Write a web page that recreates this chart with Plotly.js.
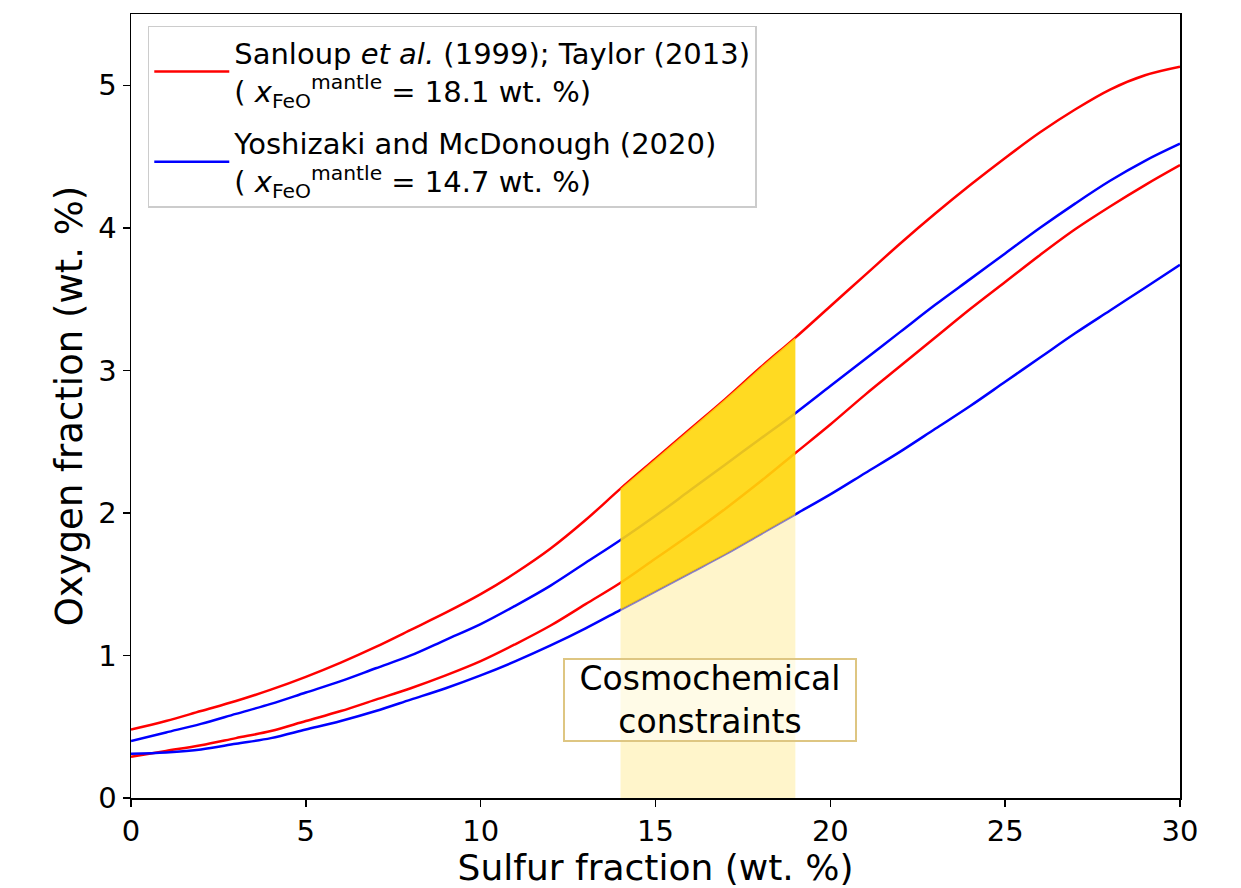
<!DOCTYPE html>
<html>
<head>
<meta charset="utf-8">
<script src="https://cdn.plot.ly/plotly-3.0.1.min.js"></script>
<style>html,body{margin:0;padding:0;background:#fff;}#chart{width:1241px;height:888px;}</style>
</head>
<body>
<div id="chart"></div>
<script>
// Sulfur fraction (wt. %)
const sulfur = [0, 1, 2, 3, 4, 5, 6, 7, 8, 9, 10, 11, 12, 13, 14, 15, 16, 17, 18, 19, 20, 21, 22, 23, 24, 25, 26, 27, 28, 29, 30];
// Sanloup et al. (1999); Taylor (2013) — upper and lower curves
const sanloupUpper = [0.48, 0.54, 0.61, 0.68, 0.76, 0.85, 0.95, 1.06, 1.18, 1.30, 1.43, 1.58, 1.75, 1.95, 2.17, 2.38, 2.59, 2.80, 3.02, 3.23, 3.45, 3.67, 3.89, 4.10, 4.30, 4.49, 4.67, 4.83, 4.97, 5.07, 5.13];
const sanloupLower = [0.29, 0.33, 0.37, 0.42, 0.47, 0.54, 0.61, 0.69, 0.77, 0.86, 0.96, 1.08, 1.21, 1.36, 1.51, 1.68, 1.85, 2.03, 2.22, 2.42, 2.62, 2.83, 3.03, 3.23, 3.43, 3.62, 3.81, 3.99, 4.15, 4.30, 4.44];
// Yoshizaki and McDonough (2020) — upper and lower curves
const yoshUpper = [0.40, 0.46, 0.52, 0.59, 0.66, 0.74, 0.82, 0.91, 1.00, 1.11, 1.22, 1.35, 1.49, 1.65, 1.81, 1.98, 2.16, 2.34, 2.52, 2.70, 2.89, 3.08, 3.27, 3.46, 3.64, 3.82, 4.00, 4.17, 4.33, 4.47, 4.59];
const yoshLower = [0.31, 0.32, 0.34, 0.38, 0.42, 0.48, 0.54, 0.61, 0.69, 0.77, 0.86, 0.96, 1.07, 1.19, 1.32, 1.45, 1.58, 1.71, 1.85, 1.99, 2.13, 2.28, 2.43, 2.59, 2.75, 2.92, 3.09, 3.26, 3.42, 3.58, 3.74];
// Cosmochemical constraint on sulfur (wt. %)
const constraintRange = [14, 19];
const constraintLabel = "Cosmochemical<br>constraints";
const legendNames = [
  "Sanloup <i>et al.</i> (1999); Taylor (2013)<br>( <i>x</i><sub>FeO</sub><sup>mantle</sup> = 18.1 wt. %)",
  "Yoshizaki and McDonough (2020)<br>( <i>x</i><sub>FeO</sub><sup>mantle</sup> = 14.7 wt. %)"
];
const xTicks = [0, 5, 10, 15, 20, 25, 30];
const yTicks = [0, 1, 2, 3, 4, 5];

const inBand = sulfur.map((s, i) => i).filter(i => sulfur[i] >= constraintRange[0] && sulfur[i] <= constraintRange[1]);
const bandX = inBand.map(i => sulfur[i]);
const bandLow = inBand.map(i => yoshLower[i]);
const bandHigh = inBand.map(i => sanloupUpper[i]);

const RED = '#ff0000', BLUE = '#0000ff';
const lw = 2.5;
const sm = 1.0;
const traces = [
  {x: sulfur, y: sanloupUpper, mode: 'lines', line: {color: RED, width: lw, shape: 'spline', smoothing: sm}, name: legendNames[0], legendgroup: 'a', showlegend: true},
  {x: sulfur, y: yoshUpper, mode: 'lines', line: {color: BLUE, width: lw, shape: 'spline', smoothing: sm}, name: legendNames[1], legendgroup: 'b', showlegend: true},
  {x: sulfur, y: sanloupLower, mode: 'lines', line: {color: RED, width: lw, shape: 'spline', smoothing: sm}, legendgroup: 'a', showlegend: false},
  {x: sulfur, y: yoshLower, mode: 'lines', line: {color: BLUE, width: lw, shape: 'spline', smoothing: sm}, legendgroup: 'b', showlegend: false},
  {x: bandX, y: bandLow, mode: 'lines', line: {width: 0, shape: 'spline', smoothing: sm}, fill: 'tozeroy', fillcolor: 'rgba(255,236,160,0.55)', showlegend: false, hoverinfo: 'skip'},
  {x: bandX, y: bandHigh, mode: 'lines', line: {width: 0, shape: 'spline', smoothing: sm}, fill: 'tonexty', fillcolor: 'rgba(255,214,10,0.9)', showlegend: false, hoverinfo: 'skip'}
];

const FONT = 'DejaVu Sans, Verdana, sans-serif';
const layout = {
  width: 1241, height: 888,
  margin: {l: 131, r: 61, t: 14, b: 90},
  paper_bgcolor: '#fff', plot_bgcolor: '#fff',
  font: {family: FONT, color: '#000', size: 29},
  showlegend: true,
  legend: {
    x: 0.016, y: 0.985, xanchor: 'left', yanchor: 'top',
    bgcolor: 'rgba(255,255,255,0.9)', bordercolor: '#cccccc', borderwidth: 1.5,
    font: {family: FONT, size: 29, color: '#000'},
    itemwidth: 75,
    tracegroupgap: 12, traceorder: 'grouped'
  },
  xaxis: {
    range: [0, 30], tickvals: xTicks, ticktext: xTicks.map(String),
    showgrid: false, zeroline: false, showline: true, mirror: true, linecolor: '#000', linewidth: 1.5,
    ticks: 'outside', ticklen: 7, tickwidth: 1.5, tickcolor: '#000',
    tickfont: {family: FONT, size: 29},
    title: {text: 'Sulfur fraction (wt. %)', font: {family: FONT, size: 36}, standoff: 6}
  },
  yaxis: {
    range: [0, 5.5], tickvals: yTicks, ticktext: yTicks.map(String),
    showgrid: false, zeroline: false, showline: true, mirror: true, linecolor: '#000', linewidth: 1.5,
    ticks: 'outside', ticklen: 7, tickwidth: 1.5, tickcolor: '#000',
    tickfont: {family: FONT, size: 29},
    title: {text: 'Oxygen fraction (wt. %)', font: {family: FONT, size: 37}, standoff: 4}
  },
  annotations: [{
    x: (constraintRange[0] + constraintRange[1]) / 2 + 0.05, y: 0.69, xref: 'x', yref: 'y',
    text: constraintLabel, showarrow: false,
    font: {family: FONT, size: 33, color: '#000'},
    width: 286, height: 76,
    bgcolor: 'rgba(255,255,255,0.55)', bordercolor: 'rgb(222,198,130)', borderwidth: 2, borderpad: 2
  }],
  hovermode: false
};

Plotly.newPlot('chart', traces, layout, {displayModeBar: false, staticPlot: true});
</script>
</body>
</html>
